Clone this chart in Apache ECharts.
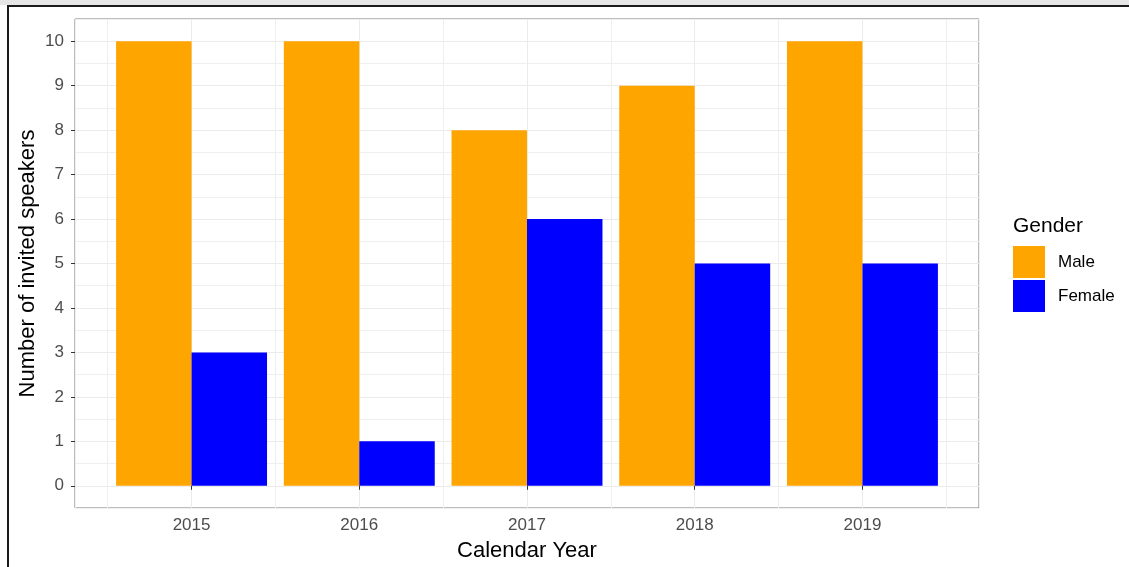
<!DOCTYPE html>
<html>
<head>
<meta charset="utf-8">
<script src="https://cdn.jsdelivr.net/npm/echarts@6/dist/echarts.min.js"></script>
<style>
  html, body { margin: 0; padding: 0; background: #ffffff; }
  #chart { width: 1129px; height: 567px; }
</style>
</head>
<body>
<div id="chart"></div>
<script>
// Invited speakers per calendar year, split by gender
const years = [2015, 2016, 2017, 2018, 2019];
const maleCounts = [10, 10, 8, 9, 10];
const femaleCounts = [3, 1, 6, 5, 5];
const yTicks = [0, 1, 2, 3, 4, 5, 6, 7, 8, 9, 10];
const seriesNames = ['Male', 'Female'];
const legendTitle = 'Gender';
const xTitle = 'Calendar Year';
const yTitle = 'Number of invited speakers';

const FONT = '"Liberation Sans", Arial, Helvetica, sans-serif';
const MAJOR_GRID = '#ebebeb';
const MINOR_GRID = '#efefef';

// Continuous x scale: bars are 0.9 wide, padded by 5% of the data span
const span = years[years.length - 1] - years[0] + 0.9;
const xMin = years[0] - 0.45 - 0.05 * span;
const xMax = years[years.length - 1] + 0.45 + 0.05 * span;
const yMin = -0.5;
const yMax = 10.5;

const pairs = (vals) => years.map((y, i) => [y, vals[i]]);

// Hidden companion axis that only draws the half-step (minor) grid lines
const minorAxis = (min, max, position) => ({
  type: 'value',
  position: position,
  min: min, max: max,
  minInterval: 0.5, maxInterval: 0.5,
  axisLine: { show: false },
  axisTick: { show: false },
  axisLabel: { show: false },
  splitLine: { show: true, lineStyle: { color: MINOR_GRID, width: 1 } }
});

const chart = echarts.init(document.getElementById('chart'), null, { renderer: 'canvas' });

chart.setOption({
  animation: false,
  backgroundColor: '#ffffff',
  textStyle: { fontFamily: FONT },
  grid: {
    left: 75, top: 19, right: 150, bottom: 59,
    outerBoundsMode: 'none',
    show: true, borderColor: '#7a7a7a', borderWidth: 1, backgroundColor: 'transparent'
  },
  xAxis: [
    minorAxis(xMin, xMax, 'top'),
    {
      type: 'value',
      position: 'bottom',
      min: xMin, max: xMax,
      minInterval: 1, maxInterval: 1,
      name: xTitle,
      nameLocation: 'middle',
      nameGap: 32,
      nameTextStyle: { fontSize: 22, color: '#000000', fontFamily: FONT },
      axisLine: { show: false },
      axisTick: { show: true, length: 4, lineStyle: { color: '#333333', width: 1 }, customValues: years },
      axisLabel: {
        show: true, fontSize: 17, color: '#4d4d4d', margin: 9, fontFamily: FONT,
        customValues: years,
        formatter: (v) => (Number.isInteger(v) ? String(v) : '')
      },
      splitLine: { show: true, lineStyle: { color: MAJOR_GRID, width: 1 } }
    }
  ],
  yAxis: [
    minorAxis(yMin, yMax, 'right'),
    {
      type: 'value',
      position: 'left',
      min: yMin, max: yMax,
      minInterval: 1, maxInterval: 1,
      name: yTitle,
      nameLocation: 'middle',
      nameGap: 36,
      nameMoveOverlap: false,
      nameTextStyle: { fontSize: 22, color: '#000000', fontFamily: FONT },
      axisLine: { show: false },
      axisTick: { show: true, length: 4, lineStyle: { color: '#333333', width: 1 }, customValues: yTicks },
      axisLabel: {
        show: true, fontSize: 17, color: '#4d4d4d', margin: 11, fontFamily: FONT,
        customValues: yTicks,
        formatter: (v) => (Number.isInteger(v) ? String(v) : '')
      },
      splitLine: { show: true, lineStyle: { color: MAJOR_GRID, width: 1 } }
    }
  ],
  legend: {
    orient: 'vertical',
    left: 1013, top: 246,
    itemWidth: 32, itemHeight: 32, itemGap: 2,
    icon: 'rect',
    padding: 0,
    data: seriesNames,
    textStyle: { fontSize: 17, color: '#000000', fontFamily: FONT, padding: [0, 0, 0, 8] }
  },
  graphic: [
    { type: 'rect', shape: { x: 0, y: 0, width: 1129, height: 5 }, style: { fill: '#e6e6e6' }, silent: true },
    { type: 'line', shape: { x1: 7, y1: 6, x2: 1129, y2: 6 }, style: { stroke: '#1a1a1a', lineWidth: 2 }, silent: true },
    { type: 'line', shape: { x1: 8, y1: 6, x2: 8, y2: 567 }, style: { stroke: '#1a1a1a', lineWidth: 2 }, silent: true },
    {
      type: 'text', left: 1013, top: 216,
      style: { text: legendTitle, fontSize: 21, fill: '#000000', fontFamily: FONT }
    }
  ],
  series: [
    {
      name: seriesNames[0], type: 'bar', data: pairs(maleCounts),
      xAxisIndex: 1, yAxisIndex: 1,
      barWidth: '45%', barGap: '0%',
      itemStyle: { color: '#FFA500' }
    },
    {
      name: seriesNames[1], type: 'bar', data: pairs(femaleCounts),
      xAxisIndex: 1, yAxisIndex: 1,
      barWidth: '45%', barGap: '0%',
      itemStyle: { color: '#0000FF' }
    }
  ]
});
</script>
</body>
</html>
